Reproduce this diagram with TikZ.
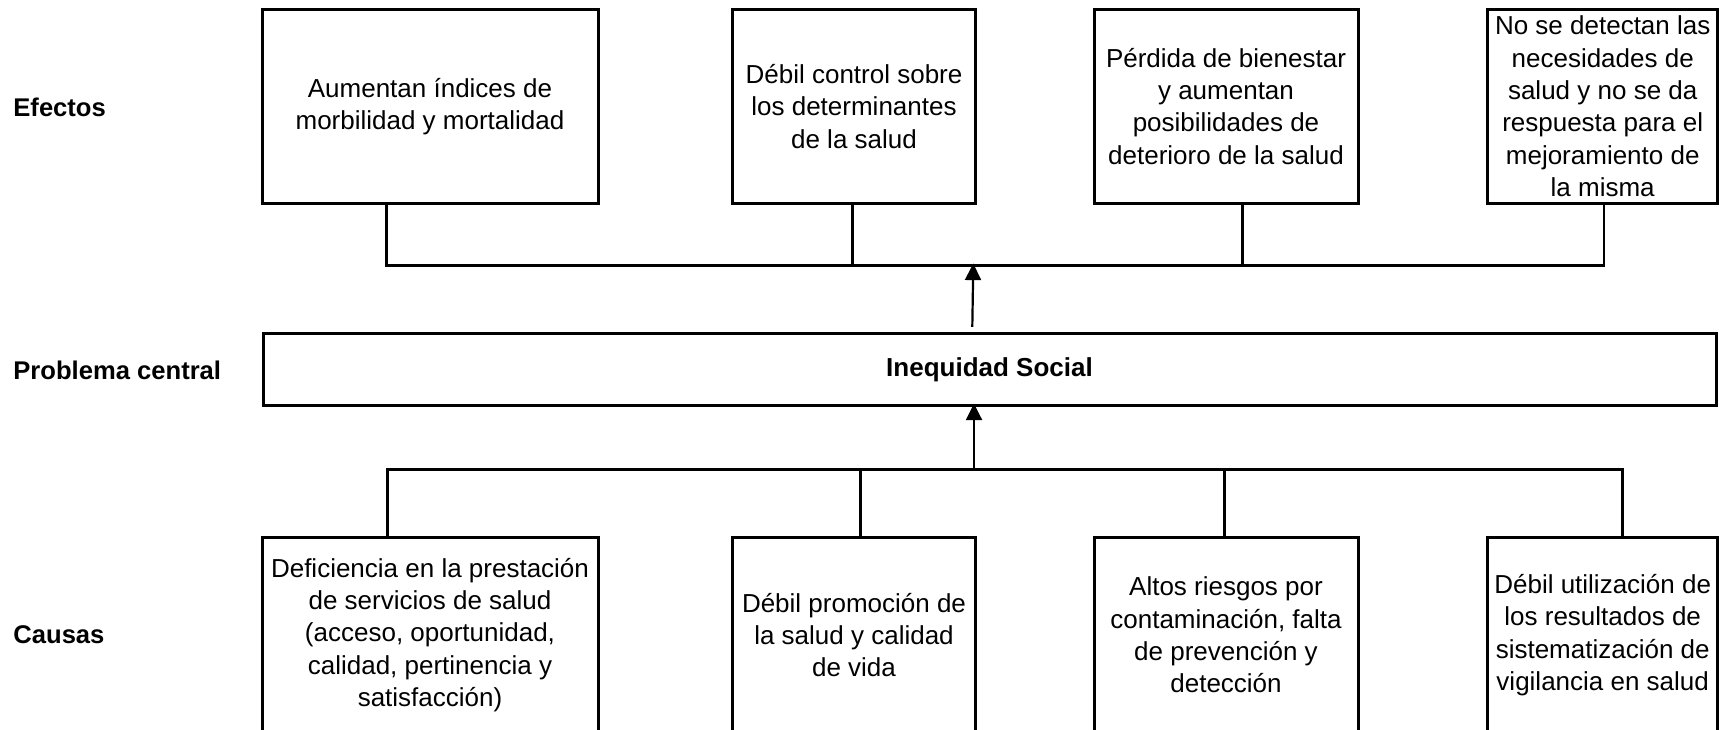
\documentclass[tikz,border=0pt]{standalone}
\usepackage{fontspec}
\setmainfont{Liberation Sans}
\usetikzlibrary{arrows.meta}
\begin{document}
\begin{tikzpicture}[x=0.5pt,y=-0.5pt,
  box/.style={draw, line width=1.5pt, inner sep=0pt, outer sep=0pt, align=center,
    font=\fontsize{13pt}{16.15pt}\selectfont},
  ebox/.style={box, minimum height=97pt},
  cbox/.style={box, minimum height=98pt},
  lbl/.style={anchor=west, inner sep=0pt, font=\fontsize{12.8pt}{15pt}\selectfont\bfseries},
  conn/.style={line width=1.25pt, line join=miter},
  arr/.style={line width=1.1pt, -{Triangle[length=8.3pt,width=8pt]}}]
\useasboundingbox (0,0) rectangle (1719,729);
\clip (0,0) rectangle (1719,729);

% labels
\node[lbl] (lef) at (13,107) {Efectos};
\node[lbl] (lpc) at (13,370) {Problema central};
\node[lbl] (lca) at (13,635) {Causas};

% effects
\node[ebox, minimum width=168pt] (e1) at (430,106.3) {Aumentan índices de\\morbilidad y mortalidad};
\node[ebox, minimum width=121.5pt] (e2) at (854,106.3) {Débil control sobre\\los determinantes\\de la salud};
\node[ebox, minimum width=132pt] (e3) at (1226,106.3) {Pérdida de bienestar\\y aumentan\\posibilidades de\\deterioro de la salud};
\node[ebox, minimum width=115.25pt] (e4) at (1602.7,106.3) {No se detectan las\\necesidades de\\salud y no se da\\respuesta para el\\mejoramiento de\\la misma};

% central problem
\node[box, minimum width=726.5pt, minimum height=36pt, font=\fontsize{13pt}{16pt}\selectfont\bfseries] (cen) at (989.5,369.5) {Inequidad Social};

% causes
\node[cbox, minimum width=168pt] (c1) at (430,635) {Deficiencia en la prestación\\de servicios de salud\\(acceso, oportunidad,\\calidad, pertinencia y\\satisfacción)};
\node[cbox, minimum width=121.5pt] (c2) at (854,635) {Débil promoción de\\la salud y calidad\\de vida};
\node[cbox, minimum width=132pt] (c3) at (1226,635) {Altos riesgos por\\contaminación, falta\\de prevención y\\detección};
\node[cbox, minimum width=115.25pt] (c4) at (1602.7,635) {Débil utilización de\\los resultados de\\sistematización de\\vigilancia en salud};

% effect connectors
\coordinate (te1) at (386.3,265.3);
\coordinate (te2) at (852.3,265.3);
\coordinate (te3) at (1242.5,265.3);
\coordinate (te4) at (1604,265.3);
\draw[conn] (e1.south -| te1) -- (te1) -- (te4) -- (e4.south -| te4);
\draw[conn] (e2.south -| te2) -- (te2);
\draw[conn] (e3.south -| te3) -- (te3);

% cause connectors
\coordinate (tc1) at (387.5,469.3);
\coordinate (tc2) at (860.4,469.3);
\coordinate (tc3) at (1224.5,469.3);
\coordinate (tc4) at (1622.5,469.3);
\draw[conn] (c1.north -| tc1) -- (tc1) -- (tc4) -- (c4.north -| tc4);
\draw[conn] (tc2) -- (c2.north -| tc2);
\draw[conn] (tc3) -- (c3.north -| tc3);

% arrows
\coordinate (ta) at (973.3,263.5);
\draw[arr] ([xshift=-8.6pt,yshift=3.3pt]cen.north) -- (ta);
\coordinate (ba) at (974,469.3);
\draw[arr, shorten >=-1pt] (ba) -- (cen.south -| ba);
\end{tikzpicture}
\end{document}
